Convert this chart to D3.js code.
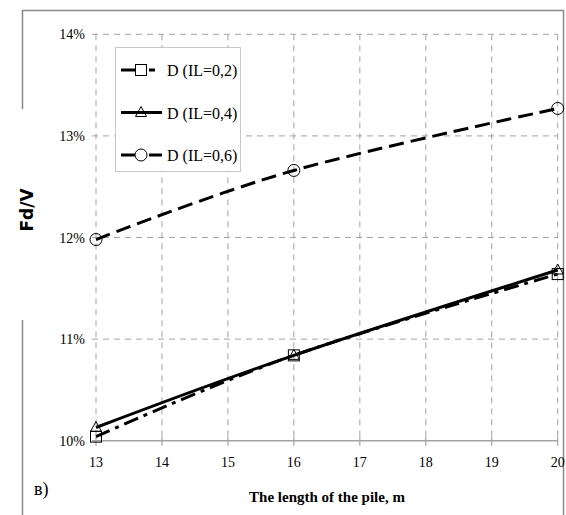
<!DOCTYPE html>
<html>
<head>
<meta charset="utf-8">
<script src="https://cdn.jsdelivr.net/npm/d3@7"></script>
<style>
  html, body { margin: 0; padding: 0; background: #fff; }
  svg { display: block; }
</style>
</head>
<body>
<svg id="chart" width="566" height="515"></svg>
<script>
// Pile length (m) on the x axis
const lengths = [13, 16, 20];
const xTicks = [13, 14, 15, 16, 17, 18, 19, 20];
const yTicks = [0.10, 0.11, 0.12, 0.13, 0.14];

// Fd/V ratio for each liquidity index
const seriesNames = ["D (IL=0,2)", "D (IL=0,4)", "D (IL=0,6)"];
const il02 = [0.1004, 0.1084, 0.1164];
const il04 = [0.1013, 0.1084, 0.1168];
const il06 = [0.1198, 0.1266, 0.1327];

const series = [
  { name: seriesNames[0], values: il02, dash: "15,6,4,6", legendDash: "15,13,6,20", marker: "square" },
  { name: seriesNames[1], values: il04, dash: null, legendDash: null, marker: "triangle" },
  { name: seriesNames[2], values: il06, dash: "15,7", legendDash: "15,13,14", marker: "circle" }
];

const svg = d3.select("#chart");
const x = d3.scaleLinear().domain([13, 20]).range([96, 557.7]);
const y = d3.scaleLinear().domain([0.10, 0.14]).range([440.7, 34.3]);

// outer frame, open on the left where the axis title sits
svg.append("path")
  .attr("d", "M22.5,109 L22.5,10.5 L563.5,10.5 L563.5,515 M22.5,320 L22.5,515")
  .attr("fill", "none").attr("stroke", "#8a8a8a").attr("stroke-width", 1.5);

const gridColor = "#a3a3a3";
const grid = svg.append("g");

// horizontal dashed grid lines
grid.selectAll("line.h").data(yTicks.slice(1)).join("line")
  .attr("class", "h")
  .attr("x1", x(13) - 4).attr("x2", x(20))
  .attr("y1", d => y(d)).attr("y2", d => y(d))
  .attr("stroke", gridColor).attr("stroke-width", 1)
  .attr("stroke-dasharray", "6,5");

// vertical dashed grid lines
grid.selectAll("line.v").data(xTicks).join("line")
  .attr("class", "v")
  .attr("x1", d => x(d)).attr("x2", d => x(d))
  .attr("y1", y(0.14)).attr("y2", y(0.10))
  .attr("stroke", gridColor).attr("stroke-width", 1)
  .attr("stroke-dasharray", "6,5");

// bottom axis line with ticks
const xAxis = svg.append("g");
xAxis.append("line")
  .attr("x1", x(13) - 4).attr("x2", x(20))
  .attr("y1", y(0.10)).attr("y2", y(0.10))
  .attr("stroke", gridColor).attr("stroke-width", 1.5);
xAxis.selectAll("line.t").data(xTicks).join("line")
  .attr("class", "t")
  .attr("x1", d => x(d)).attr("x2", d => x(d))
  .attr("y1", y(0.10) - 4).attr("y2", y(0.10) + 5)
  .attr("stroke", gridColor).attr("stroke-width", 1.2);

const serif = "'Liberation Serif', 'Times New Roman', serif";

xAxis.selectAll("text").data(xTicks).join("text")
  .attr("x", d => x(d)).attr("y", 467)
  .attr("text-anchor", "middle")
  .attr("font-family", serif).attr("font-size", 14)
  .text(d => d);

const pct = d3.format(".0%");
svg.append("g").selectAll("text").data(yTicks).join("text")
  .attr("x", 85).attr("y", d => y(d) + 5)
  .attr("text-anchor", "end")
  .attr("font-family", serif).attr("font-size", 14)
  .text(d => pct(d));

// axis titles
svg.append("text")
  .attr("x", 327).attr("y", 502)
  .attr("text-anchor", "middle")
  .attr("font-family", serif).attr("font-size", 15).attr("font-weight", "bold")
  .text("The length of the pile, m");

svg.append("text")
  .attr("transform", "translate(33,210) rotate(-90)")
  .attr("text-anchor", "middle")
  .attr("font-family", "'DejaVu Sans', Arial, sans-serif").attr("font-size", 17).attr("font-weight", "bold")
  .text("Fd/V");

svg.append("text")
  .attr("x", 34).attr("y", 495)
  .attr("font-family", serif).attr("font-size", 18)
  .text("в)");

// smooth lines through the measured points
const line = d3.line()
  .x((d, i) => x(lengths[i]))
  .y(d => y(d))
  .curve(d3.curveCardinal.tension(0));

const plot = svg.append("g");
series.forEach(s => {
  plot.append("path")
    .datum(s.values)
    .attr("d", line)
    .attr("fill", "none")
    .attr("stroke", "#000")
    .attr("stroke-width", 3)
    .attr("stroke-dasharray", s.dash);
});

function drawMarker(g, type, cx, cy) {
  if (type === "square") {
    g.append("rect")
      .attr("x", cx - 5.5).attr("y", cy - 5.5).attr("width", 11).attr("height", 11)
      .attr("fill", "none").attr("stroke", "#000").attr("stroke-width", 1);
  } else if (type === "triangle") {
    g.append("path")
      .attr("d", `M${cx},${cy - 6} L${cx + 5.5},${cy + 4} L${cx - 5.5},${cy + 4} Z`)
      .attr("fill", "none").attr("stroke", "#000").attr("stroke-width", 1);
  } else {
    g.append("circle")
      .attr("cx", cx).attr("cy", cy).attr("r", 6)
      .attr("fill", "none").attr("stroke", "#000").attr("stroke-width", 1);
  }
}

series.forEach(s => {
  s.values.forEach((v, i) => drawMarker(plot, s.marker, x(lengths[i]), y(v)));
});

// legend
const legend = svg.append("g");
legend.append("rect")
  .attr("x", 115.5).attr("y", 47.5).attr("width", 125).attr("height", 124)
  .attr("fill", "#fff").attr("stroke", "#c8c8c8").attr("stroke-width", 1);

series.forEach((s, i) => {
  const ly = 70 + i * 42.5;
  const item = legend.append("g");
  item.append("line")
    .attr("x1", 121).attr("x2", 162).attr("y1", ly).attr("y2", ly)
    .attr("stroke", "#000").attr("stroke-width", 3)
    .attr("stroke-dasharray", s.legendDash);
  if (s.marker !== "triangle") {
    item.append("rect").attr("x", 135).attr("y", ly - 6.5).attr("width", 12).attr("height", 13).attr("fill", "#fff");
  }
  drawMarker(item, s.marker, 141, ly);
  item.append("text")
    .attr("x", 167).attr("y", ly + 6)
    .attr("font-family", serif).attr("font-size", 16)
    .text(s.name);
});
</script>
</body>
</html>
